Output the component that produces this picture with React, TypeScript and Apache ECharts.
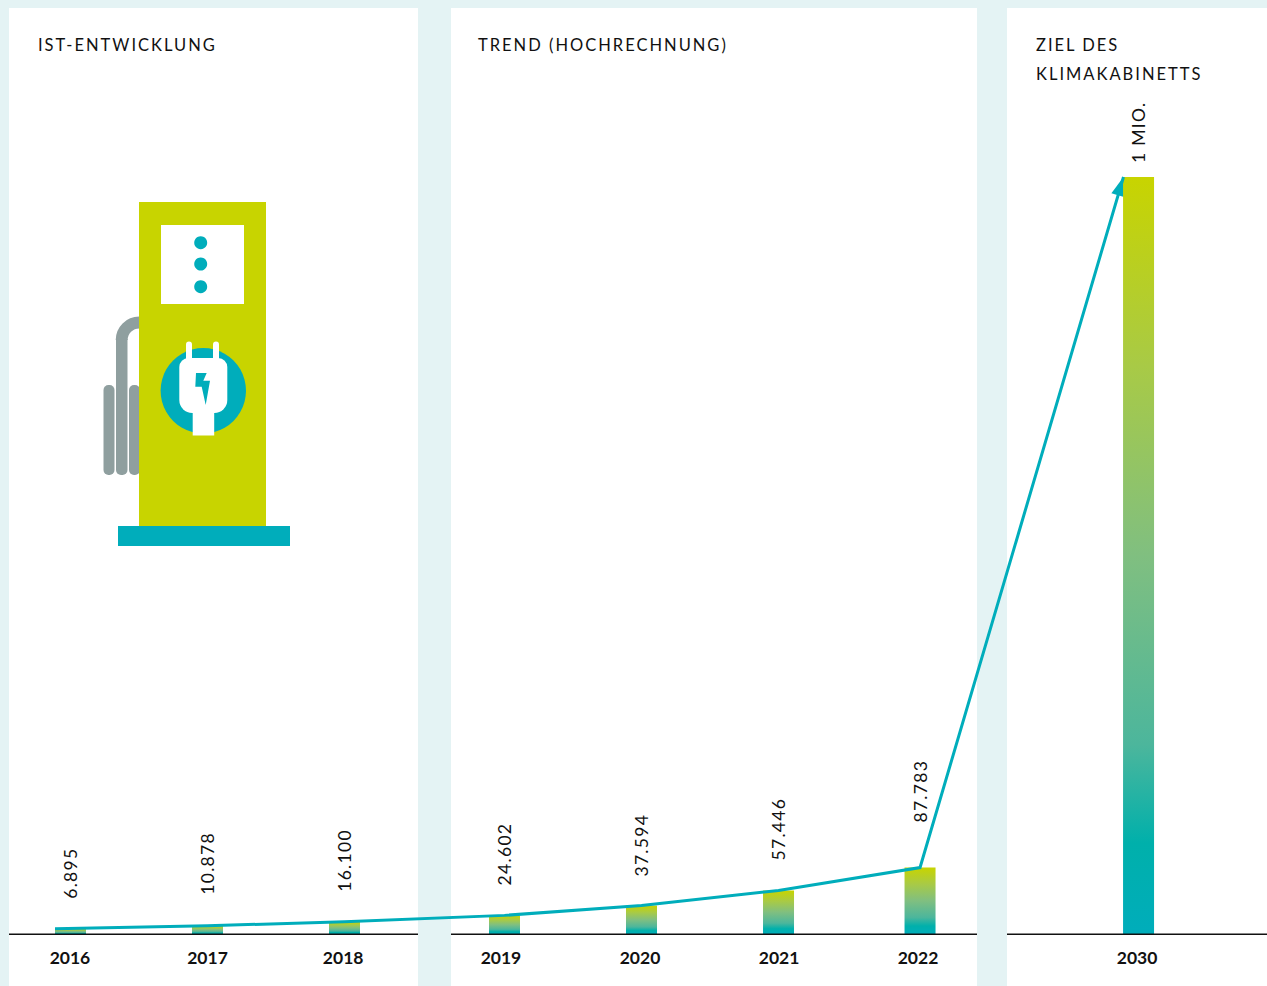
import React, { useEffect, useRef } from "react";
import * as echarts from "echarts";

// Charging points in Germany: actual figures, projection and the 2030 target.
const years = ["2016", "2017", "2018", "2019", "2020", "2021", "2022", "2030"];
const chargingPoints = [6895, 10878, 16100, 24602, 37594, 57446, 87783, 1000000];
const valueLabels = ["6.895", "10.878", "16.100", "24.602", "37.594", "57.446", "87.783", "1 MIO."];
const labelGaps = [30, 31, 30, 30, 29, 30, 45, 14];
const barSlots = [0, 1, 2, 3.168, 4.168, 5.168, 6.201, 7.796];
const yearLabelSlots = [-0.004, 1, 1.99, 3.142, 4.157, 5.172, 6.186, 7.785];
const trendSlots = [-0.113, 1, 2, 3.168, 4.168, 5.168, 6.201, 7.686];
const panelTitles = ["IST-ENTWICKLUNG", "TREND (HOCHRECHNUNG)", "ZIEL DES\nKLIMAKABINETTS"];

const LIME = "#c8d400";
const TEAL = "#00adbb";
const GREY = "#8f9f9f";
const TINT = "#e4f3f4";
const INK = "#111111";
const FONT = "Lato";

const barGradient = () =>
  new echarts.graphic.LinearGradient(0, 0, 0, 1, [
    { offset: 0, color: LIME },
    { offset: 0.25, color: "#a8ca46" },
    { offset: 0.5, color: "#80bf80" },
    { offset: 0.75, color: "#4cb69c" },
    { offset: 0.88, color: "#00b0ab" },
    { offset: 1, color: TEAL },
  ]);

const panel = (x: number, width: number) => ({
  type: "rect",
  z: 0,
  shape: { x, y: 8, width, height: 978 },
  style: { fill: "#ffffff" },
});

const baseline = (x1: number, x2: number) => ({
  type: "rect",
  z: 10,
  shape: { x: x1, y: 933.5, width: x2 - x1, height: 1.5 },
  style: { fill: INK },
});

// Charging station illustration in the first panel.
const chargingStation = () => {
  const solid = (type: string, shape: object, fill: string) => ({
    type,
    z: 1,
    shape,
    style: { fill },
  });
  return [
    solid("rect", { x: 103.5, y: 385, width: 11, height: 90, r: 5 }, GREY),
    solid("rect", { x: 116, y: 339, width: 11.5, height: 136, r: [0, 0, 5, 5] }, GREY),
    solid("rect", { x: 129, y: 385, width: 11, height: 90, r: 5 }, GREY),
    {
      type: "arc",
      z: 1,
      shape: { cx: 139.2, cy: 340, r: 17.5, startAngle: Math.PI, endAngle: Math.PI * 1.5 },
      style: { stroke: GREY, lineWidth: 12, fill: "none" },
    },
    solid("rect", { x: 139, y: 202, width: 127, height: 324 }, LIME),
    solid("rect", { x: 118, y: 526, width: 172, height: 20 }, TEAL),
    solid("rect", { x: 161, y: 225, width: 83, height: 79 }, "#ffffff"),
    solid("circle", { cx: 200.7, cy: 242.7, r: 6.5 }, TEAL),
    solid("circle", { cx: 200.7, cy: 264, r: 6.5 }, TEAL),
    solid("circle", { cx: 200.7, cy: 286.7, r: 6.5 }, TEAL),
    solid("circle", { cx: 203.3, cy: 390.7, r: 42.7 }, TEAL),
    solid("rect", { x: 186, y: 341.5, width: 6, height: 22, r: 3 }, "#ffffff"),
    solid("rect", { x: 213, y: 341.5, width: 6, height: 22, r: 3 }, "#ffffff"),
    solid("rect", { x: 179.3, y: 358, width: 48, height: 55, r: [9, 9, 13, 13] }, "#ffffff"),
    solid("rect", { x: 192.7, y: 405, width: 21.5, height: 30.5 }, "#ffffff"),
    solid(
      "polygon",
      {
        points: [
          [196, 373],
          [206.7, 373],
          [203.3, 380.7],
          [210, 380.7],
          [205.7, 405],
          [201.7, 386.7],
          [195.3, 386.7],
        ],
      },
      TEAL
    ),
  ];
};

const titleAt = (text: string, left: number) => ({
  text,
  left,
  top: 25,
  textStyle: {
    fontFamily: FONT,
    fontSize: 16.5,
    fontWeight: "normal",
    color: INK,
    lineHeight: 29,
  },
});

export default function App() {
  const ref = useRef<HTMLDivElement>(null);

  useEffect(() => {
    const chart = echarts.init(ref.current!, undefined, { renderer: "svg" });
    const slotWidth = 137;
    const originX = 70.5;

    chart.setOption({
      animation: false,
      backgroundColor: TINT,
      title: [
        titleAt(panelTitles[0], 33),
        titleAt(panelTitles[1], 473),
        titleAt(panelTitles[2], 1031),
      ],
      grid: { left: 0, right: 0, top: 177, bottom: 52 },
      xAxis: {
        type: "value",
        min: -originX / slotWidth,
        max: (1267 - originX) / slotWidth,
        axisLine: { show: false },
        axisTick: { show: false },
        splitLine: { show: false },
        axisLabel: {
          customValues: yearLabelSlots,
          margin: 14,
          fontFamily: FONT,
          fontSize: 17.5,
          fontWeight: 700,
          color: INK,
          formatter: (v: number) => {
            let best = 0;
            yearLabelSlots.forEach((s, i) => {
              if (Math.abs(s - v) < Math.abs(yearLabelSlots[best] - v)) best = i;
            });
            return years[best];
          },
        },
      },
      yAxis: { type: "value", min: 0, max: 1000000, show: false },
      graphic: [
        panel(9, 409),
        panel(451, 526),
        panel(1007, 260),
        ...chargingStation(),
        baseline(9, 418),
        baseline(451, 977),
        baseline(1007, 1267),
      ],
      series: [
        {
          // Arrowhead at the end of the trend line, tucked behind the 2030 bar.
          type: "custom",
          z: 1,
          silent: true,
          coordinateSystem: "cartesian2d",
          data: [[trendSlots[6], chargingPoints[6], trendSlots[7], chargingPoints[7]]],
          renderItem: (_: unknown, api: any) => {
            const from = api.coord([api.value(0), api.value(1)]);
            const tip = api.coord([api.value(2), api.value(3)]);
            const dx = tip[0] - from[0];
            const dy = tip[1] - from[1];
            const len = Math.hypot(dx, dy);
            const ux = dx / len;
            const uy = dy / len;
            const bx = tip[0] - ux * 19;
            const by = tip[1] - uy * 19;
            return {
              type: "polygon",
              shape: {
                points: [
                  tip,
                  [bx - uy * 7, by + ux * 7],
                  [bx + uy * 7, by - ux * 7],
                ],
              },
              style: { fill: TEAL },
            };
          },
        },
        {
          type: "bar",
          z: 2,
          barWidth: 31,
          data: chargingPoints.map((v, i) => ({
            value: [barSlots[i], v],
            itemStyle: { color: barGradient() },
            label: { distance: labelGaps[i] },
          })),
          label: {
            show: true,
            position: "top",
            rotate: 90,
            align: "left",
            verticalAlign: "middle",
            fontFamily: FONT,
            fontSize: 17.5,
            color: INK,
            formatter: (p: any) => valueLabels[p.dataIndex],
          },
        },
        {
          type: "line",
          z: 3,
          showSymbol: false,
          symbol: "none",
          silent: true,
          lineStyle: { color: TEAL, width: 3, cap: "butt", join: "miter" },
          data: chargingPoints.map((v, i) => [trendSlots[i], v]),
        },
      ],
    });
    return () => chart.dispose();
  }, []);

  return (
    <>
      <style>{`
        html, body { margin: 0; padding: 0; background: ${TINT}; overflow: hidden; }
        .klima-chart text { letter-spacing: 1.3px; }
        .klima-chart text[style*="16.5px"] { letter-spacing: 2px; }
        .klima-chart text[style*="700"] { letter-spacing: 0; }
      `}</style>
      <div className="klima-chart" ref={ref} style={{ width: 1267, height: 986 }} />
    </>
  );
}
